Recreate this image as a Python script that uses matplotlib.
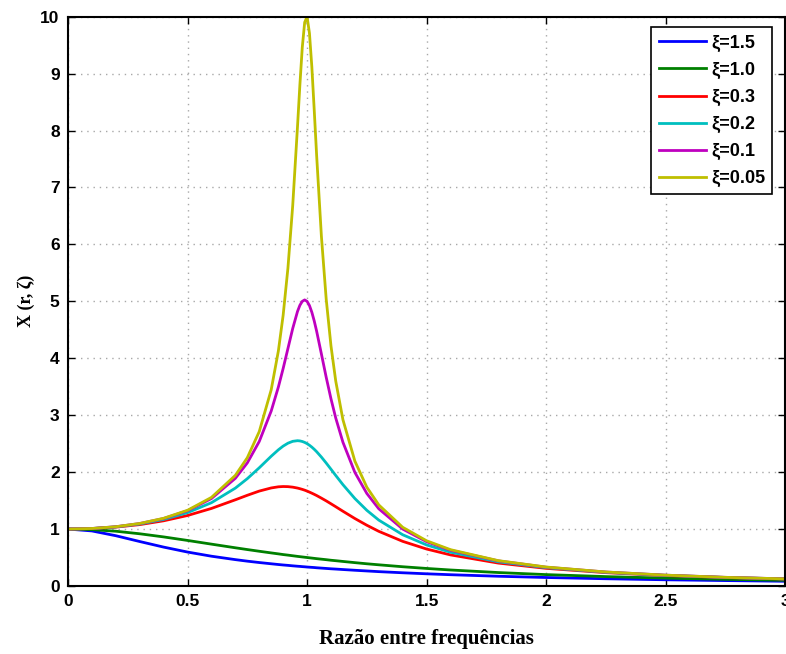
import matplotlib.pyplot as plt

# razão entre frequências (r) e fator de amplificação
r = [0, 0.1, 0.2, 0.3, 0.4, 0.5, 0.6, 0.7, 0.75, 0.8, 0.85, 0.88, 0.9, 0.92, 0.94,
     0.96, 0.97, 0.98, 0.99, 1.0, 1.01, 1.02, 1.03, 1.04, 1.06, 1.08, 1.1, 1.12,
     1.15, 1.2, 1.25, 1.3, 1.4, 1.5, 1.6, 1.8, 2.0, 2.25, 2.5, 2.75, 3.0]

x_15 = [1.0, 0.967, 0.883, 0.781, 0.683, 0.596, 0.523, 0.463, 0.436, 0.412, 0.390, 0.377,
        0.369, 0.362, 0.354, 0.347, 0.344, 0.340, 0.337, 0.333, 0.330, 0.327, 0.324, 0.320,
        0.314, 0.308, 0.302, 0.297, 0.289, 0.276, 0.264, 0.252, 0.232, 0.214, 0.198, 0.171,
        0.149, 0.127, 0.109, 0.095, 0.083]
x_10 = [1.0, 0.990, 0.962, 0.917, 0.862, 0.800, 0.735, 0.671, 0.640, 0.610, 0.581, 0.564,
        0.552, 0.542, 0.531, 0.520, 0.515, 0.510, 0.505, 0.500, 0.495, 0.490, 0.485, 0.480,
        0.471, 0.462, 0.452, 0.444, 0.431, 0.410, 0.390, 0.372, 0.338, 0.308, 0.281, 0.236,
        0.200, 0.165, 0.138, 0.117, 0.100]
x_03 = [1.0, 1.008, 1.034, 1.078, 1.145, 1.238, 1.362, 1.514, 1.593, 1.667, 1.722, 1.742,
        1.747, 1.745, 1.736, 1.720, 1.709, 1.697, 1.683, 1.667, 1.649, 1.630, 1.610, 1.589,
        1.543, 1.495, 1.444, 1.392, 1.313, 1.185, 1.067, 0.960, 0.784, 0.649, 0.546, 0.402,
        0.310, 0.234, 0.183, 0.148, 0.122]
x_02 = [1.0, 1.009, 1.038, 1.089, 1.169, 1.288, 1.463, 1.719, 1.885, 2.076, 2.279, 2.392,
        2.457, 2.508, 2.541, 2.552, 2.548, 2.538, 2.522, 2.500, 2.472, 2.439, 2.401, 2.359,
        2.264, 2.160, 2.051, 1.941, 1.780, 1.536, 1.329, 1.157, 0.900, 0.721, 0.593, 0.425,
        0.322, 0.240, 0.187, 0.150, 0.124]
x_01 = [1.0, 1.010, 1.041, 1.097, 1.185, 1.322, 1.536, 1.891, 2.162, 2.538, 3.073, 3.495,
        3.821, 4.172, 4.523, 4.822, 4.931, 5.000, 5.025, 5.000, 4.926, 4.808, 4.655, 4.476,
        4.075, 3.667, 3.288, 2.950, 2.525, 1.995, 1.625, 1.356, 1.000, 0.778, 0.628, 0.441,
        0.330, 0.245, 0.190, 0.152, 0.125]
x_005 = [1.0, 1.010, 1.041, 1.098, 1.189, 1.330, 1.556, 1.943, 2.253, 2.712, 3.446, 4.129,
         4.757, 5.586, 6.683, 8.069, 8.804, 9.462, 9.901, 10.0, 9.71, 9.117, 8.357, 7.565,
         6.141, 5.041, 4.218, 3.598, 2.921, 2.193, 1.735, 1.424, 1.031, 0.794, 0.638, 0.445,
         0.333, 0.246, 0.190, 0.152, 0.125]

series = [x_15, x_10, x_03, x_02, x_01, x_005]
labels = ["ξ=1.5", "ξ=1.0", "ξ=0.3", "ξ=0.2", "ξ=0.1", "ξ=0.05"]
colors = [(0, 0, 1), (0, 0.5, 0), (1, 0, 0), (0, 0.75, 0.75), (0.75, 0, 0.75), (0.75, 0.75, 0)]

fig = plt.figure(figsize=(7.86, 6.54), dpi=100)
ax = fig.add_axes([0.0865, 0.104, 0.9125, 0.8705])

for y, lab, c in zip(series, labels, colors):
    ax.plot(r, y, color=c, linewidth=2.0, label=lab)

ax.set_xlim(0, 3)
ax.set_ylim(0, 10)
ax.set_xticks([0, 0.5, 1, 1.5, 2, 2.5, 3])
ax.set_xticklabels(["0", "0.5", "1", "1.5", "2", "2.5", "3"])
ax.set_yticks(range(0, 11))

for lab in ax.get_xticklabels() + ax.get_yticklabels():
    lab.set_family("Liberation Sans")
    lab.set_fontweight("bold")
    lab.set_fontsize(12.5)
ax.tick_params(direction="in", length=5, width=1, top=True, right=True, pad=6)

# grade pontilhada clara
ax.grid(True, linestyle=(0, (1, 3.5)), color="#a8a8a8", linewidth=1)
for s in ax.spines.values():
    s.set_linewidth(1.5)

ax.set_xlabel("Razão entre frequências", family="Liberation Serif", fontweight="bold",
              fontsize=15, labelpad=14)
ax.set_ylabel("X (r, ζ)", family="Liberation Serif", fontweight="bold",
              fontsize=13, labelpad=4)

leg = ax.legend(loc="upper right", bbox_to_anchor=(0.982, 0.981), borderaxespad=0,
                fancybox=False, framealpha=1, edgecolor="black", handlelength=2.6,
                handletextpad=0.3, labelspacing=0.55,
                prop={"family": "Liberation Sans", "weight": "bold", "size": 13})
leg.get_frame().set_linewidth(1.2)

fig.savefig("out.png", dpi=100)
